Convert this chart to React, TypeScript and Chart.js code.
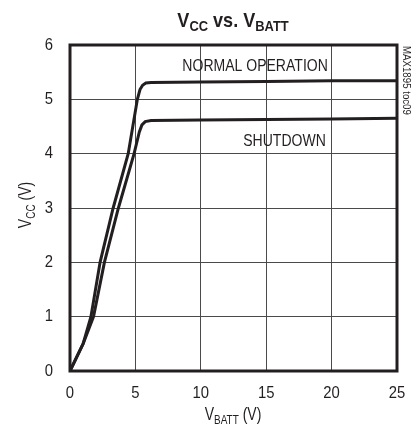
import React, { useEffect, useRef } from "react";
import { Chart, registerables } from "chart.js";

Chart.register(...registerables);

const normalX = [0, 1, 1.6, 2.3, 3.3, 4.45, 5.15, 5.35, 5.55, 5.8, 6.2, 10, 15, 20, 25];
const normalY = [0, 0.5, 1.0, 2.0, 3.0, 4.0, 5.0, 5.18, 5.26, 5.3, 5.31, 5.32, 5.33, 5.34, 5.34];
const shutdownX = [0, 1, 1.8, 2.63, 3.7, 4.9, 5.3, 5.5, 5.75, 6.2, 10, 15, 20, 25];
const shutdownY = [0, 0.5, 1.0, 2.0, 3.0, 4.0, 4.4, 4.53, 4.59, 4.61, 4.62, 4.63, 4.64, 4.65];
const xTicks = [0, 5, 10, 15, 20, 25];
const yTicks = [0, 1, 2, 3, 4, 5, 6];
const seriesNames = ["NORMAL OPERATION", "SHUTDOWN"];

const FONT = '"Liberation Sans", Arial, sans-serif';
const INK = "#231f20";

type Part = { t: string; sub?: boolean };

function drawParts(ctx: CanvasRenderingContext2D, parts: Part[], x: number, y: number, size: number, subSize: number, bold: boolean, sx: number) {
  ctx.save();
  ctx.translate(x, y);
  ctx.scale(sx, 1);
  const fontFor = (p: Part) => `${bold ? "bold " : ""}${p.sub ? subSize : size}px ${FONT}`;
  let total = 0;
  for (const p of parts) {
    ctx.font = fontFor(p);
    total += ctx.measureText(p.t).width;
  }
  let cx = -total / 2;
  ctx.textAlign = "left";
  ctx.textBaseline = "alphabetic";
  for (const p of parts) {
    ctx.font = fontFor(p);
    ctx.fillText(p.t, cx, p.sub ? size * 0.2 : 0);
    cx += ctx.measureText(p.t).width;
  }
  ctx.restore();
}

function drawText(ctx: CanvasRenderingContext2D, s: string, x: number, y: number, size: number, sx: number, align: CanvasTextAlign) {
  ctx.save();
  ctx.translate(x, y);
  ctx.scale(sx, 1);
  ctx.font = `${size}px ${FONT}`;
  ctx.textAlign = align;
  ctx.textBaseline = "middle";
  ctx.fillText(s, 0, 0);
  ctx.restore();
}

const decor = {
  id: "decor",
  afterDraw(chart: any) {
    const { ctx, chartArea: a, scales } = chart;
    ctx.save();
    ctx.strokeStyle = INK;
    ctx.lineWidth = 3;
    ctx.strokeRect(a.left, a.top, a.right - a.left, a.bottom - a.top);
    ctx.fillStyle = INK;
    // tick labels
    for (const v of xTicks) drawText(ctx, String(v), scales.x.getPixelForValue(v), a.bottom + 22, 16.5, 0.9, "center");
    for (const v of yTicks) drawText(ctx, String(v), a.left - 17, scales.y.getPixelForValue(v), 16.5, 0.9, "right");
    // title
    drawParts(ctx, [{ t: "V" }, { t: "CC", sub: true }, { t: " vs. V" }, { t: "BATT", sub: true }], 233, 27, 21, 15, true, 0.86);
    // x title
    drawParts(ctx, [{ t: "V" }, { t: "BATT", sub: true }, { t: " (V)" }], 233, 420, 17.5, 12.5, false, 0.8);
    // y title
    ctx.save();
    ctx.translate(31, 205);
    ctx.rotate(-Math.PI / 2);
    drawParts(ctx, [{ t: "V" }, { t: "CC", sub: true }, { t: " (V)" }], 0, 0, 17.5, 12.5, false, 0.8);
    ctx.restore();
    // curve labels
    drawText(ctx, seriesNames[0], scales.x.getPixelForValue(14.15), scales.y.getPixelForValue(5.6), 16.5, 0.85, "center");
    drawText(ctx, seriesNames[1], scales.x.getPixelForValue(16.4), scales.y.getPixelForValue(4.22), 16.5, 0.85, "center");
    // side label
    ctx.save();
    ctx.translate(406, 46);
    ctx.rotate(Math.PI / 2);
    drawText(ctx, "MAX1895 toc09", 0, 0, 11, 0.88, "left");
    ctx.restore();
    ctx.restore();
  },
};

export default function App() {
  const ref = useRef<HTMLCanvasElement>(null);
  useEffect(() => {
    const chart = new Chart(ref.current!, {
      type: "line",
      data: {
        datasets: [
          {
            label: seriesNames[0],
            data: normalX.map((x, i) => ({ x, y: normalY[i] })),
            borderColor: INK,
            borderWidth: 3,
            pointRadius: 0,
            tension: 0,
          },
          {
            label: seriesNames[1],
            data: shutdownX.map((x, i) => ({ x, y: shutdownY[i] })),
            borderColor: INK,
            borderWidth: 3,
            pointRadius: 0,
            tension: 0,
          },
        ],
      },
      options: {
        animation: false,
        responsive: false,
        layout: { padding: { left: 8, right: 15, top: 45, bottom: 0 } },
        plugins: { legend: { display: false }, tooltip: { enabled: false }, title: { display: false } },
        scales: {
          x: {
            type: "linear",
            min: 0,
            max: 25,
            afterBuildTicks: (s: any) => { s.ticks = xTicks.map((v) => ({ value: v })); },
            afterFit: (s: any) => { s.height = 60; },
            grid: { color: "#4a4a4a", lineWidth: 1, drawTicks: false },
            border: { display: false },
            ticks: { display: false },
          },
          y: {
            type: "linear",
            min: 0,
            max: 6,
            afterBuildTicks: (s: any) => { s.ticks = yTicks.map((v) => ({ value: v })); },
            afterFit: (s: any) => { s.width = 62; },
            grid: { color: "#4a4a4a", lineWidth: 1, drawTicks: false },
            border: { display: false },
            ticks: { display: false },
          },
        },
      },
      plugins: [decor],
    } as any);
    return () => chart.destroy();
  }, []);
  return (
    <div style={{ position: "fixed", left: 0, top: 0, width: 412, height: 431, background: "#fff" }}>
      <canvas ref={ref} width={412} height={431} style={{ width: 412, height: 431 }} />
    </div>
  );
}
